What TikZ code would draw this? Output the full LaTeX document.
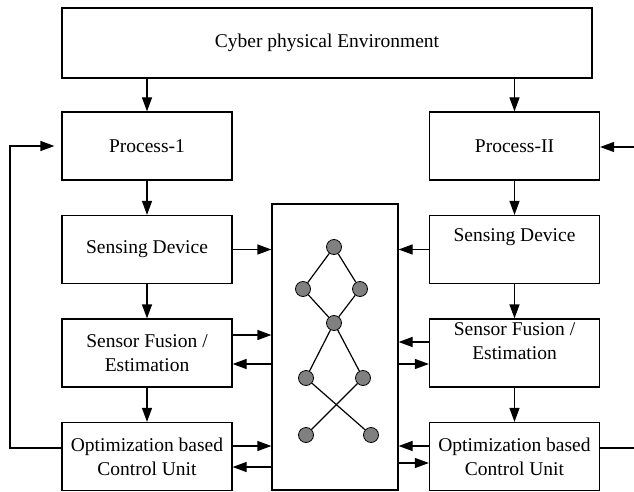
\documentclass[tikz,border=0pt]{standalone}
\usepackage{fontspec}
\setmainfont{Liberation Serif}
\newfontfamily\diagfont{Liberation Serif}
\usetikzlibrary{arrows.meta}
\tikzstyle{block} = [rectangle, draw, fill=white, minimum width=170pt, minimum height=68pt, inner sep=2pt, align=center]
\tikzstyle{wide} = [block, minimum width=530pt, minimum height=70pt]
\tikzstyle{netbox} = [rectangle, draw, minimum width=126pt, minimum height=286pt]
\tikzstyle{dot} = [circle, draw, fill=gray, minimum size=15pt, inner sep=0pt, line width=0.8pt]

\begin{document}
\begin{tikzpicture}[->,>={Triangle[length=14pt,width=10pt]},x=1pt,y=-1pt,node distance=103.5pt,line width=1.2pt,font=\diagfont\fontsize{19.5}{24}\selectfont]
  \useasboundingbox (0,0) rectangle (634,492);
  \node[wide] (env) at (327,43) {Cyber physical Environment};
  \node[block] (proc1) at (147,146) {Process-1};
  \node[block] (sense1) [below of=proc1] {Sensing Device};
  \node[block] (fuse1) [below of=sense1] {Sensor Fusion /\\Estimation};
  \node[block] (opt1) [below of=fuse1] {Optimization based\\Control Unit};
  \node[block] (proc2) [right of=proc1, node distance=367.5pt] {Process-II};
  \node[block, text depth=28pt] (sense2) [below of=proc2] {Sensing Device};
  \node[block, text depth=24pt] (fuse2) [below of=sense2] {Sensor Fusion /\\Estimation};
  \node[block] (opt2) [below of=fuse2] {Optimization based\\Control Unit};
  \node[netbox] (net) at (335,347) {};

  % graph inside the middle box
  \node[dot] (n1) at (334,247) {};
  \node[dot] (n2) at (303,289) {};
  \node[dot] (n3) at (360,289) {};
  \node[dot] (n4) at (334,323) {};
  \node[dot] (n5) at (306,378) {};
  \node[dot] (n6) at (363,378) {};
  \node[dot] (n7) at (306,435) {};
  \node[dot] (n8) at (371,435) {};
  \path[-] (n1) edge (n2) (n1) edge (n3) (n2) edge (n4) (n3) edge (n4);
  \path[-] (n4) edge (n5) (n4) edge (n6) (n5) edge (n8) (n6) edge (n7);

  \draw (env.south -| proc1) -- (proc1);
  \draw (env.south -| proc2) -- (proc2);
  \path (proc1) edge (sense1);
  \path (sense1) edge (fuse1);
  \path (fuse1) edge (opt1);
  \path (proc2) edge (sense2);
  \path (sense2) edge (fuse2);
  \path (fuse2) edge (opt2);

  \draw (sense1) -- (sense1 -| net.west);
  \draw (fuse1.east |- 0,335) -- (net.west |- 0,335);
  \draw (net.west |- 0,364) -- (fuse1.east |- 0,364);
  \draw (opt1.east |- 0,446) -- (net.west |- 0,446);
  \draw (net.west |- 0,467) -- (opt1.east |- 0,467);
  \draw (sense2) -- (sense2 -| net.east);
  \draw (fuse2.west |- 0,342) -- (net.east |- 0,342);
  \draw (net.east |- 0,364) -- (fuse2.west |- 0,364);
  \draw (opt2.west |- 0,446) -- (net.east |- 0,446);
  \draw (net.east |- 0,463) -- (opt2.west |- 0,463);

  % feedback lines
  \coordinate (fbl) at (10,448);
  \draw[shorten >=7pt] (opt1.west |- fbl) -- (fbl) |- (proc1.west);
  \coordinate (fbr) at (634,448);
  \coordinate (inr) at (634,147);
  \draw[-] (opt2.east |- fbr) -- (fbr);
  \draw (inr) -- (proc2.east |- inr);
\end{tikzpicture}
\end{document}
